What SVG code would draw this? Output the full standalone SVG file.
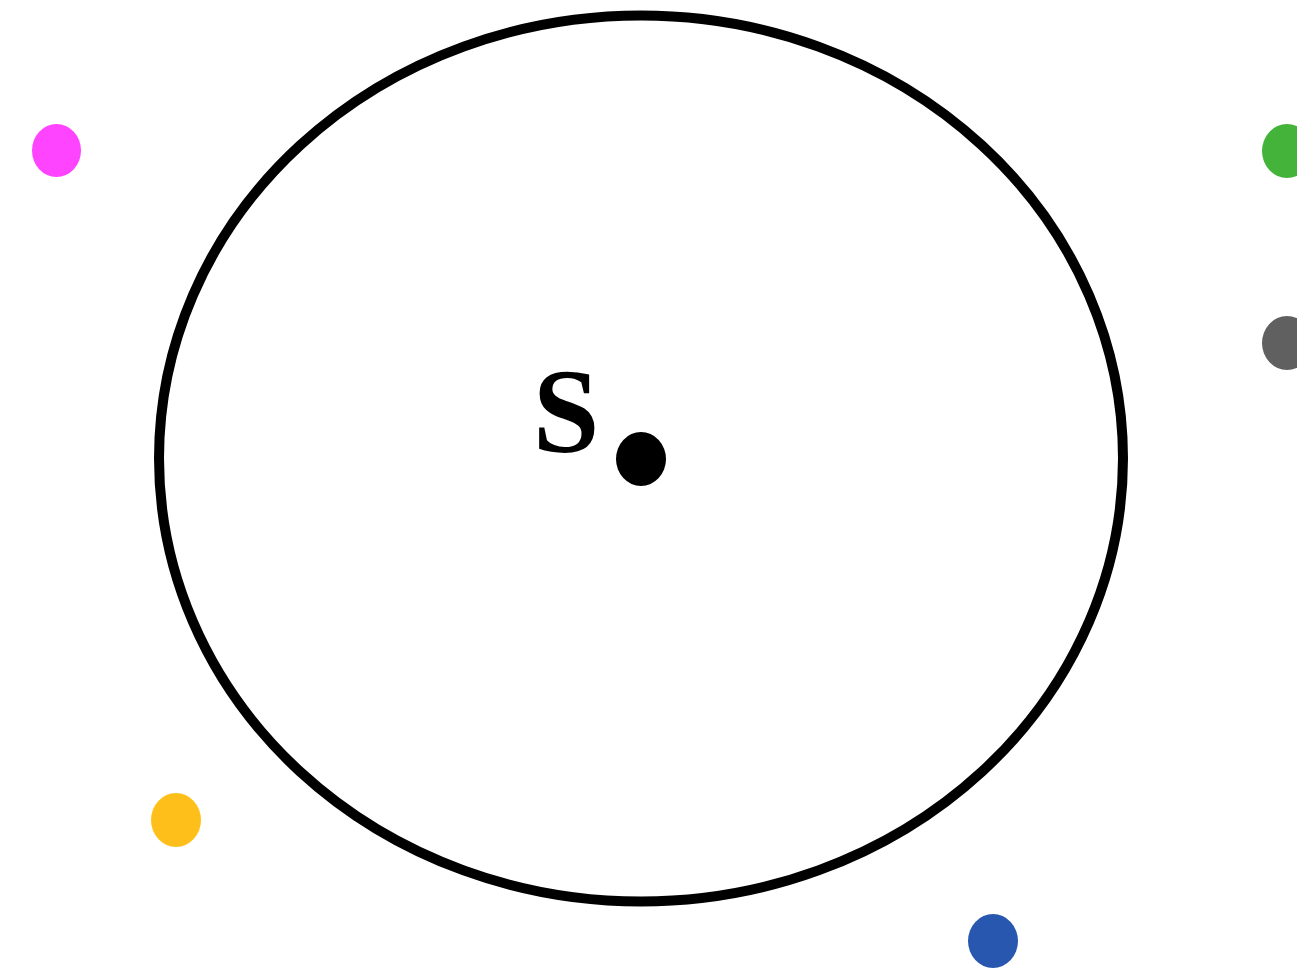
<svg xmlns="http://www.w3.org/2000/svg" width="1297" height="971" viewBox="0 0 1297 971">
<style>
.dot{stroke:none}
.label{font-family:"Liberation Serif","Times New Roman",serif;font-weight:bold;fill:#000}
</style>
<rect width="1297" height="971" fill="#fff"/>
<g id="boundary"><ellipse cx="641" cy="458.5" rx="482" ry="443" fill="none" stroke="#000" stroke-width="10"/></g>
<g id="node-s">
<ellipse class="dot" cx="641" cy="459" rx="25" ry="27" fill="#000"/>
<text class="label" x="566" y="452" font-size="120" text-anchor="middle">S</text>
</g>
<g id="node-magenta"><ellipse class="dot" cx="56.5" cy="150.5" rx="24.5" ry="26.5" fill="#FF44FF"/></g>
<g id="node-green"><ellipse class="dot" cx="1287" cy="151" rx="25" ry="27" fill="#44B33A"/></g>
<g id="node-gray"><ellipse class="dot" cx="1287" cy="343" rx="25" ry="27" fill="#606060"/></g>
<g id="node-yellow"><ellipse class="dot" cx="176" cy="820" rx="25" ry="27" fill="#FFBF1A"/></g>
<g id="node-blue"><ellipse class="dot" cx="993" cy="941" rx="25" ry="27" fill="#2857B0"/></g>
<g id="connectors"></g>
</svg>
